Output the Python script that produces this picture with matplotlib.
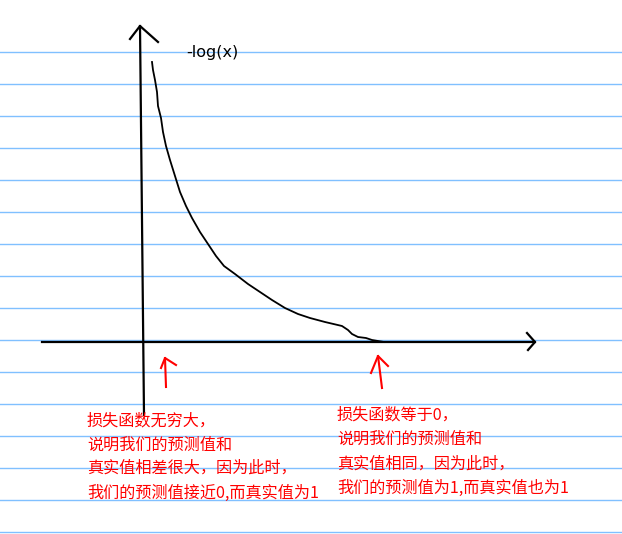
import matplotlib.pyplot as plt
import numpy as np

plt.rcParams['font.family'] = ['Noto Sans CJK SC', 'DejaVu Sans']

# hand-drawn -log(x) curve, sampled in picture pixels
curve_x = [152, 153, 155, 157, 158, 161, 163, 166, 170, 175, 180, 186, 192, 200, 208,
           216, 224, 235, 248, 260, 272, 285, 298, 310, 325, 342, 348, 352, 358, 366,
           372, 378, 384]
curve_y = [62, 70, 80, 92, 106, 118, 132, 146, 160, 176, 192, 206, 218, 232, 244,
           256, 266, 274, 284, 292, 300, 308, 314, 318, 322, 326, 330, 334, 337, 338,
           340, 341, 342]

ruled_y = np.arange(52, 534, 32)

left_lines = ["损失函数无穷大，", "说明我们的预测值和", "真实值相差很大，因为此时，",
              "我们的预测值接近0,而真实值为1"]
right_lines = ["损失函数等于0，", "说明我们的预测值和", "真实值相同，因为此时，",
               "我们的预测值为1,而真实值也为1"]
left_y = [421, 445, 468, 493]
right_y = [415, 439, 464, 488]

fig = plt.figure(figsize=(6.22, 5.34), dpi=100, facecolor='w')
ax = fig.add_axes([0, 0, 1, 1])
ax.set_xlim(0, 622)
ax.set_ylim(534, 0)
ax.axis('off')

for y in ruled_y:
    ax.plot([0, 622], [y, y], color='#80c0ff', lw=1.0, zorder=1)

# axes drawn by hand
ax.plot([140, 144], [26, 415], color='k', lw=1.6, zorder=3)
ax.plot([130, 140, 158], [39, 26, 42], color='k', lw=1.6, zorder=3)
ax.plot([42, 535], [342, 342], color='k', lw=1.6, zorder=3)
ax.plot([527, 535, 528], [333, 342, 350], color='k', lw=1.6, zorder=3)

ax.plot(curve_x, curve_y, color='k', lw=1.3, zorder=3)
ax.text(186, 53, "-log(x)", fontsize=11.5, color='k', va='center', ha='left',
        family='DejaVu Sans')

# red arrows
ax.plot([166, 165], [387, 358], color='red', lw=1.5)
ax.plot([161, 165, 176], [368, 358, 365], color='red', lw=1.5)
ax.plot([382, 378], [388, 356], color='red', lw=1.5)
ax.plot([371, 378, 388], [373, 356, 366], color='red', lw=1.5)

for s, y in zip(left_lines, left_y):
    ax.text(87, y, s, fontsize=11.6, color='red', va='center', ha='left')
for s, y in zip(right_lines, right_y):
    ax.text(337, y, s, fontsize=11.6, color='red', va='center', ha='left')

fig.savefig('out.png', dpi=100)
